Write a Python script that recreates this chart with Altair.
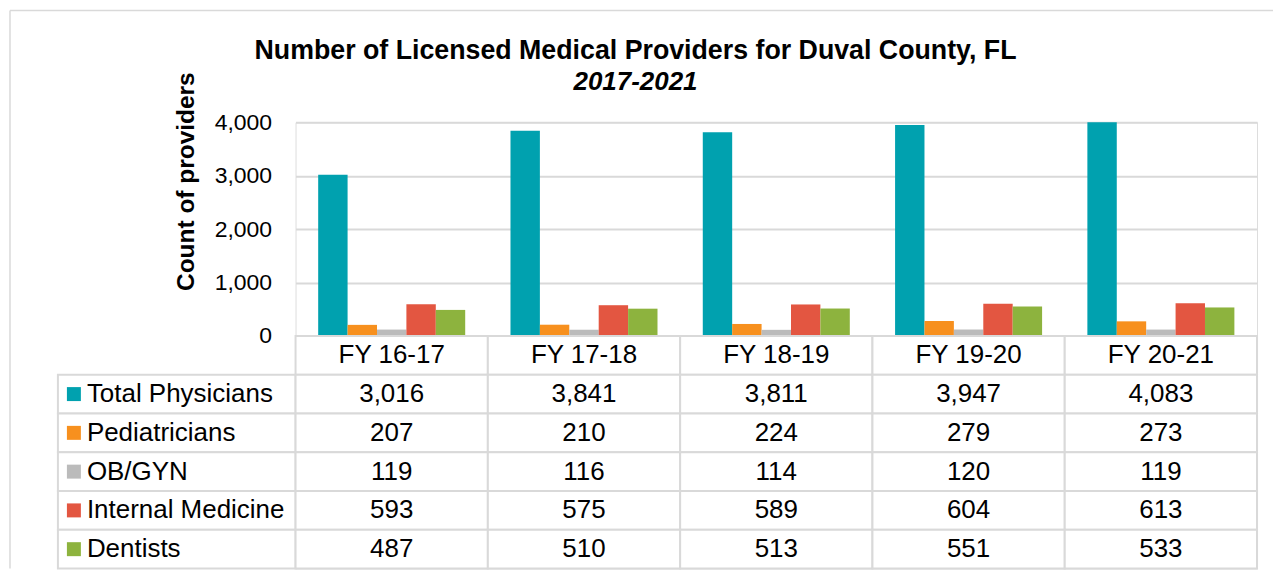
import altair as alt
import pandas as pd

# ---- data ----
fiscal_years = ["FY 16-17", "FY 17-18", "FY 18-19", "FY 19-20", "FY 20-21"]
series = ["Total Physicians", "Pediatricians", "OB/GYN", "Internal Medicine", "Dentists"]
total_physicians = [3016, 3841, 3811, 3947, 4083]
pediatricians = [207, 210, 224, 279, 273]
ob_gyn = [119, 116, 114, 120, 119]
internal_medicine = [593, 575, 589, 604, 613]
dentists = [487, 510, 513, 551, 533]
colors = ["#00A1AF", "#F7901E", "#BBBBBB", "#E35641", "#8DB33E"]
y_ticks = [0, 1000, 2000, 3000, 4000]
title_text = "Number of Licensed Medical Providers for Duval County, FL"
subtitle_text = "2017-2021"
y_title = "Count of providers"

values_by_series = dict(zip(series, [total_physicians, pediatricians, ob_gyn,
                                     internal_medicine, dentists]))
records = []
for s in series:
    for fy, v in zip(fiscal_years, values_by_series[s]):
        records.append({"fy": fy, "row": s, "value": v, "label": f"{v:,}"})
df = pd.DataFrame(records)

header_df = pd.DataFrame({"fy": fiscal_years, "row": ["header"] * len(fiscal_years),
                          "label": fiscal_years})
cells_df = pd.concat([header_df, df[["fy", "row", "label"]]], ignore_index=True)
label_df = pd.DataFrame({"row": series})
dummy = pd.DataFrame({"k": [0]})

# ---- layout / style ----
W, H = 963, 214
TH = 233
FONT = "Liberation Sans"
GRID = "#D9D9D9"
TXT = "#000000"

x_scale = alt.Scale(domain=fiscal_years, paddingInner=0, paddingOuter=0)
color_scale = alt.Scale(domain=series, range=colors)

bars = alt.Chart(df).mark_bar().encode(
    x=alt.X("fy:N", scale=x_scale, axis=None, sort=fiscal_years),
    xOffset=alt.XOffset("row:N", sort=series,
                        scale=alt.Scale(domain=series, paddingInner=0, paddingOuter=0.77)),
    y=alt.Y("value:Q",
            scale=alt.Scale(domain=[0, 4000], clamp=True, nice=False),
            axis=alt.Axis(values=y_ticks, format=",.0f", title=y_title,
                          grid=True, gridColor=GRID, gridWidth=2,
                          domain=False, ticks=False, tickSize=0,
                          labelFontSize=23, labelColor=TXT, labelFont=FONT, labelPadding=24,
                          titleFontSize=24.5, titleFontWeight="bold", titleColor=TXT,
                          titleFont=FONT, titleY=59, titlePadding=16)),
    color=alt.Color("row:N", scale=color_scale, legend=None),
)

top = bars.properties(
    width=W, height=H,
    title=alt.TitleParams(
        text=title_text, subtitle=subtitle_text,
        font=FONT, fontSize=26.8, fontWeight="bold", color=TXT,
        subtitleFont=FONT, subtitleFontSize=26, subtitleFontWeight="bold",
        subtitleFontStyle="italic", subtitleColor=TXT, subtitlePadding=4,
        anchor="middle", frame="group", dx=-141, dy=23, offset=0),
)

# ---- table ----
row_domain = ["header"] + series
y_tab = alt.Scale(domain=row_domain, paddingInner=0, paddingOuter=0)
x_tab = alt.Scale(domain=fiscal_years, paddingInner=0, paddingOuter=0)

cells = alt.Chart(cells_df).mark_rect(fill="white", stroke=GRID, strokeWidth=2).encode(
    x=alt.X("fy:N", scale=x_tab, axis=None),
    y=alt.Y("row:N", scale=y_tab, axis=None),
)
cell_text = alt.Chart(cells_df).mark_text(font=FONT, fontSize=26, color=TXT,
                                          baseline="middle", align="center").encode(
    x=alt.X("fy:N", scale=x_tab, axis=None),
    y=alt.Y("row:N", scale=y_tab, axis=None),
    text="label:N",
)
label_cells = alt.Chart(label_df).mark_rect(fill="white", stroke=GRID, strokeWidth=2).encode(
    x=alt.value(-238), x2=alt.value(0),
    y=alt.Y("row:N", scale=y_tab, axis=None),
)
squares = alt.Chart(label_df).mark_square(size=196, opacity=1).encode(
    x=alt.value(-222),
    y=alt.Y("row:N", scale=y_tab, axis=None),
    color=alt.Color("row:N", scale=color_scale, legend=None),
)
labels = alt.Chart(label_df).mark_text(font=FONT, fontSize=26, color=TXT,
                                       baseline="middle", align="left").encode(
    x=alt.value(-209),
    y=alt.Y("row:N", scale=y_tab, axis=None),
    text="row:N",
)
# outer frame of the chart area (top and left edges)
border_top = alt.Chart(dummy).mark_rule(color=GRID, strokeWidth=1.5).encode(
    x=alt.value(-286), x2=alt.value(W + 16), y=alt.value(-H - 112))
border_left = alt.Chart(dummy).mark_rule(color=GRID, strokeWidth=1.5).encode(
    x=alt.value(-286), y=alt.value(-H - 112), y2=alt.value(TH))

table = alt.layer(border_top, border_left, label_cells, cells, squares, labels,
                  cell_text).properties(width=W, height=TH)

chart = alt.vconcat(top, table, spacing=0, bounds="flush").resolve_scale(
    x="independent", y="independent"
).properties(padding=0).configure_view(stroke=GRID, strokeWidth=2).configure(font=FONT)

chart.save("out.html", embed_options={"renderer": "svg", "actions": False})
